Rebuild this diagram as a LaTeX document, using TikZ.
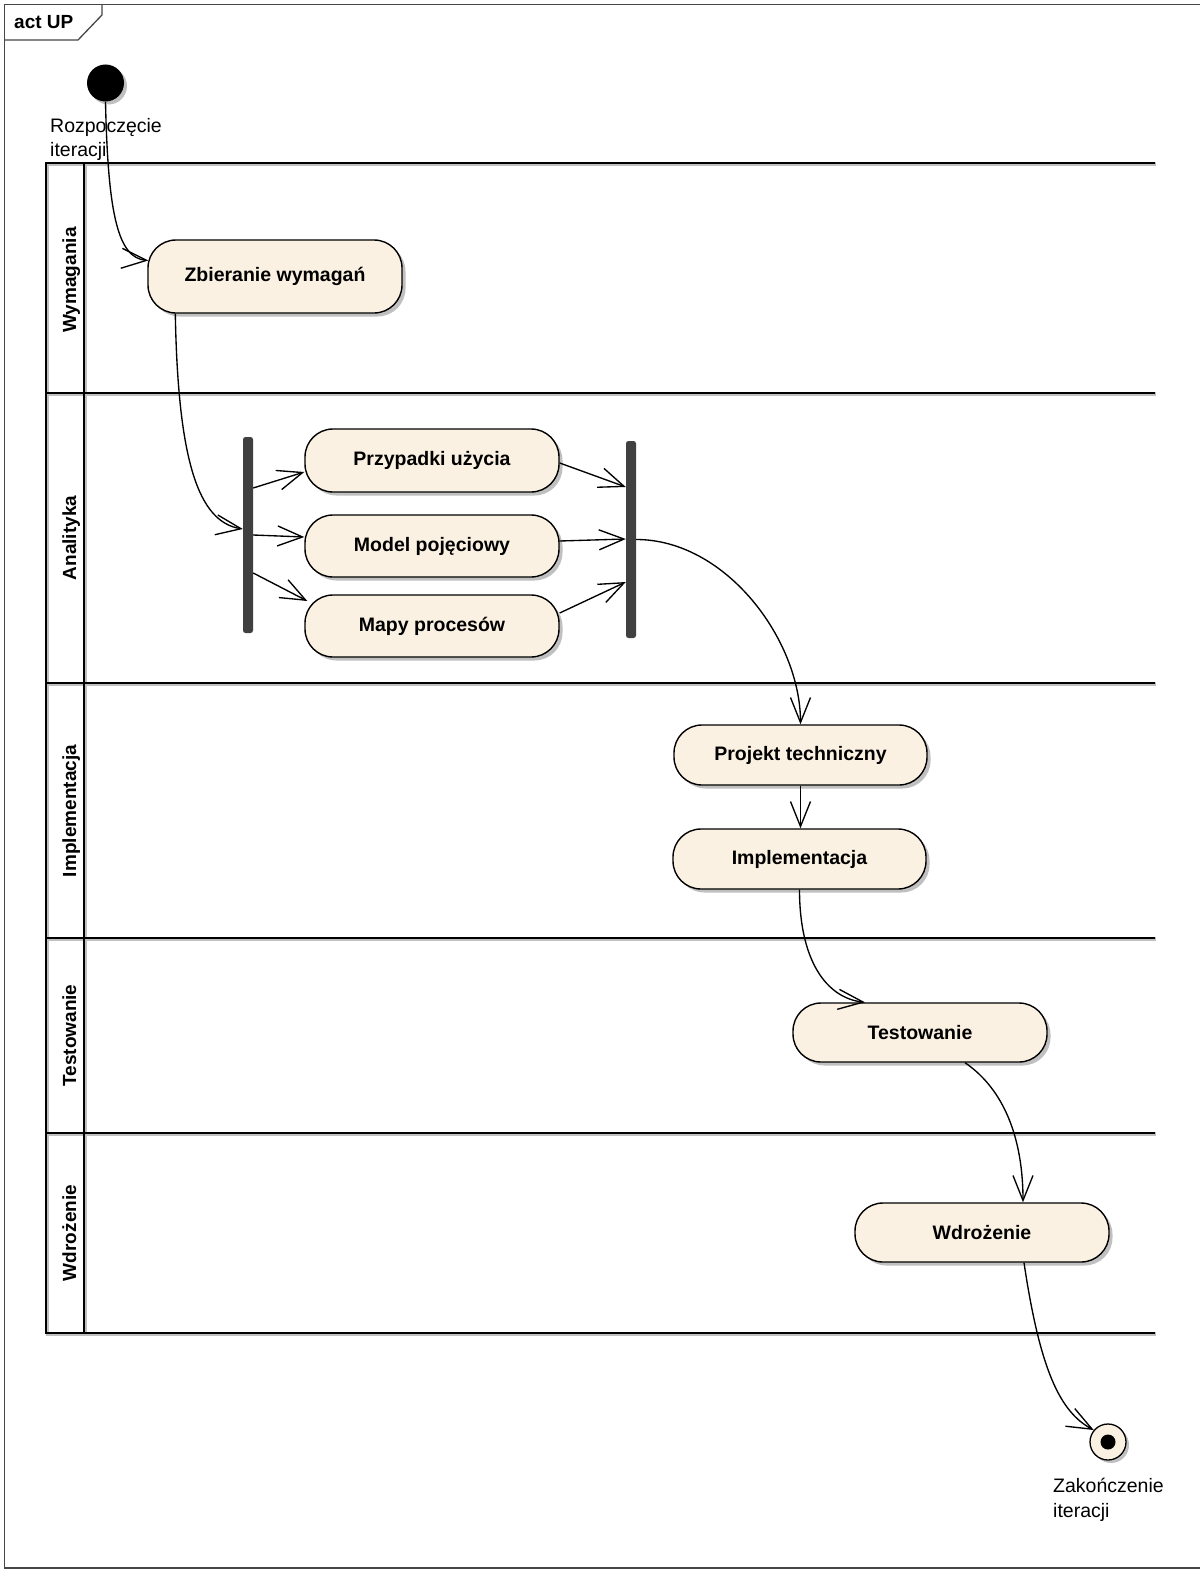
\documentclass[tikz,border=0pt]{standalone}
\usepackage{fontspec}
\setmainfont{Liberation Sans}
\usetikzlibrary{arrows.meta,calc}
\definecolor{actfill}{RGB}{251,241,226}
\definecolor{shadowgray}{RGB}{192,192,192}
\definecolor{barcol}{RGB}{64,64,64}
\definecolor{framecol}{RGB}{70,70,70}
\tikzset{
  shadowed/.style={preaction={fill=shadowgray,transform canvas={shift={(3.5pt,-3.5pt)}}}},
  actbox/.style={draw, line width=1.4pt, fill=actfill, rounded corners=28pt,
    minimum width=254pt, inner sep=0pt, font=\bfseries\fontsize{19.5}{23}\selectfont, shadowed},
  forkbar/.style={fill=barcol, draw=none, rounded corners=2.5pt, minimum width=10pt,
    inner sep=0pt, minimum height=196pt},
  flow/.style={line width=1.35pt, -{Straight Barb[length=25pt,width=20pt,line width=1.35pt]}},
  lanelbl/.style={rotate=90, anchor=base, font=\bfseries\fontsize{19}{22}\selectfont},
  lane/.style={line width=2.4pt},
  laneshadow/.style={line width=4.2pt, shadowgray},
  plainlbl/.style={anchor=north west, inner sep=0pt, align=left, font=\fontsize{19.5}{24.5}\selectfont},
}
\begin{document}
\begin{tikzpicture}[x=1pt,y=-1pt]
\useasboundingbox (0,0) rectangle (1200,1573);
\fill[white] (0,0) rectangle (1200,1573);
% frame
\draw[framecol, line width=1.3pt] (1200,4.5) -- (4.5,4.5) -- (4.5,1568) -- (1200,1568);
\draw[framecol, line width=1.3pt] (4.5,40) -- (78,40) -- (102,15) -- (102,4.5);
\node[anchor=base west, inner sep=0pt, font=\bfseries\fontsize{19}{22}\selectfont] (title) at (14,29) {act UP};
% swimlanes (shadows)
\foreach \yy in {163,393,683,938,1133,1333} {
  \draw[laneshadow] (46,\yy+1) -- (1156,\yy+1);
}
\draw[laneshadow] (47,163) -- (47,1334);
\draw[laneshadow] (85,163) -- (85,1334);
\foreach \yy in {163,393,683,938,1133,1333} {
  \draw[lane] (45,\yy) -- (1155,\yy);
}
\draw[lane] (46,162) -- (46,1334);
\draw[lane] (84,162) -- (84,1334);
\node[lanelbl] (l1) at (76,280) {Wymagania};
\node[lanelbl] (l2) at (76,538) {Analityka};
\node[lanelbl] (l3) at (76,811) {Implementacja};
\node[lanelbl] (l4) at (76,1035.5) {Testowanie};
\node[lanelbl] (l5) at (76,1233) {Wdrożenie};
% initial and final
\fill[shadowgray] (108.5,86) circle (18.5);
\node[circle, fill=black, minimum size=37pt, inner sep=0pt] (init) at (105.5,83) {};
\node[plainlbl] (initlbl) at (50,118) {Rozpoczęcie\\iteracji};
\fill[shadowgray] (1111,1445) circle (18);
\node[circle, draw, line width=1.3pt, fill=actfill, minimum size=36pt, inner sep=0pt] (fin) at (1108,1442) {};
\fill[black] (fin.center) circle (7.5);
\node[plainlbl] (finlbl) at (1053,1478) {Zakończenie\\iteracji};
% actions
\node[actbox, minimum height=73pt] (zb) at (275,276.5) {Zbieranie wymagań};
\node[actbox, minimum height=63pt] (pu) at (432,460.5) {Przypadki użycia};
\node[actbox, minimum height=62pt] (mp) at (432,546) {Model pojęciowy};
\node[actbox, minimum height=62pt] (ma) at (432,626) {Mapy procesów};
\node[actbox, minimum height=60pt, minimum width=253pt] (pt) at (800.5,755) {Projekt techniczny};
\node[actbox, minimum height=60pt, minimum width=253pt] (im) at (799.5,859) {Implementacja};
\node[actbox, minimum height=59pt] (te) at (920,1032.5) {Testowanie};
\node[actbox, minimum height=59pt] (wd) at (982,1232.5) {Wdrożenie};
% forks
\node[forkbar] (jl) at (248,535) {};
\node[forkbar, minimum height=197pt] (jr) at (631,539.5) {};
% connectors
\draw[flow] (init.south) .. controls (108,215) and (118,258) .. ($(zb.west)+(1,-16)$);
\draw[flow] ($(zb.south west)+(28,0)$) .. controls (178,460) and (198,522) .. ($(jl.west)+(0,-6)$);
\draw[flow] ($(jl.east)+(0,-47)$) -- ($(pu.west)+(0,11.5)$);
\draw[flow] (jl.east) -- ($(mp.west)+(0,-9)$);
\draw[flow] ($(jl.east)+(0,38)$) -- ($(ma.west)+(3,-25)$);
\draw[flow] ($(pu.east)+(0,2.5)$) -- ($(jr.west)+(0,-52.5)$);
\draw[flow] ($(mp.east)+(0,-5)$) -- ($(jr.west)+(0,-0.5)$);
\draw[flow] ($(ma.east)+(0,-13)$) -- ($(jr.west)+(0,42.5)$);
\draw[flow] (jr.east) .. controls (726,539.5) and (800.5,640) .. (pt.north);
\draw[flow] (pt.south) -- (pt.south |- im.north);
\draw[flow] (im.south) .. controls (799.5,960) and (826,998) .. ($(te.north)+(-55,0)$);
\draw[flow] ($(te.south)+(45,0)$) .. controls (1005,1090) and (1023,1140) .. ($(wd.north)+(41,0)$);
\draw[flow] ($(wd.south)+(42,0)$) .. controls (1040,1370) and (1060,1412) .. (fin.140);
\end{tikzpicture}
\end{document}
